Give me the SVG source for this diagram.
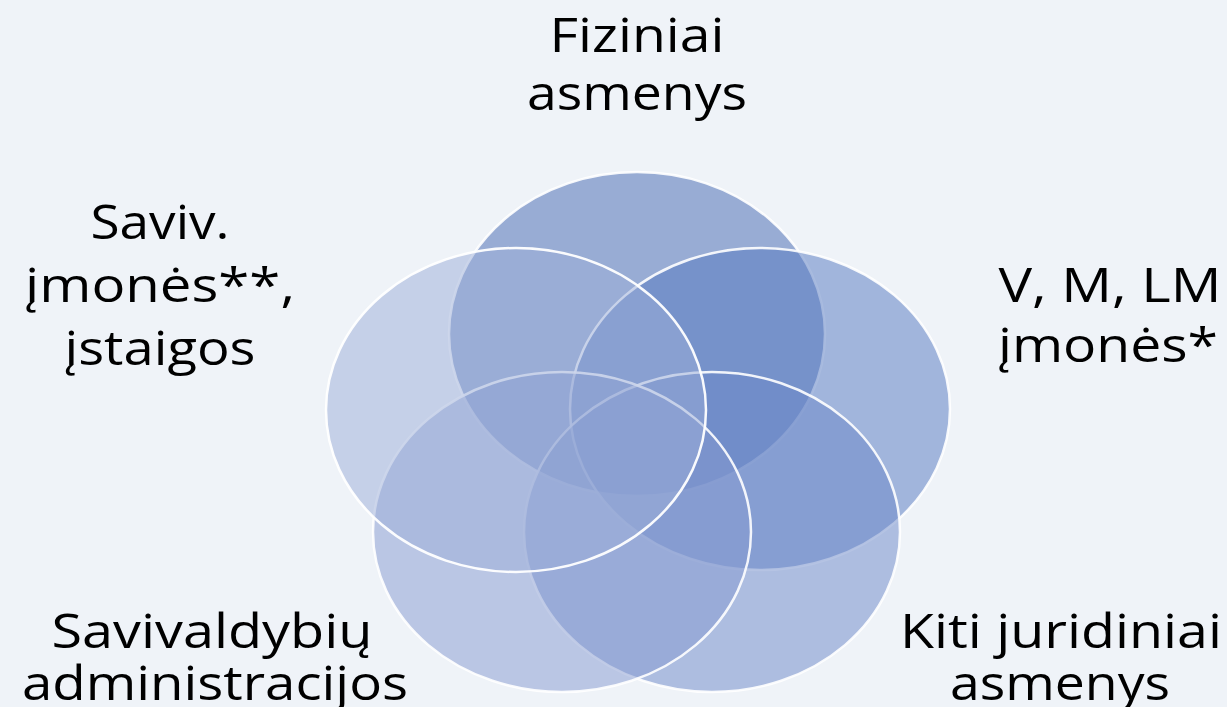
<svg xmlns="http://www.w3.org/2000/svg" width="1227" height="707" viewBox="0 0 1227 707">
<style>
.lbl{font-family:"Open Sans","Liberation Sans",sans-serif;font-size:48px;fill:#000;text-anchor:middle}
.c{stroke:#ffffff;stroke-width:2.5}
</style>
<rect width="1227" height="707" fill="#eff3f8"/>
<g id="connectors"/>
<g id="node-fiziniai">
<ellipse class="c" cx="637" cy="334" rx="188" ry="162" fill="rgb(65,101,176)" fill-opacity="0.5" stroke-opacity="0.9"/>
</g>
<g id="node-vmlm">
<ellipse class="c" cx="760" cy="409" rx="190" ry="161" fill="rgb(83,119,192)" fill-opacity="0.5" stroke-opacity="0.9"/>
</g>
<g id="node-kiti">
<ellipse class="c" cx="712" cy="532" rx="188" ry="160" fill="rgb(107,135,200)" fill-opacity="0.5" stroke-opacity="0.9"/>
</g>
<g id="node-savivaldybiu">
<ellipse class="c" cx="562" cy="532" rx="189" ry="160" fill="rgb(133,153,208)" fill-opacity="0.5" stroke-opacity="0.9"/>
</g>
<g id="node-saviv">
<ellipse class="c" cx="516" cy="410" rx="190" ry="162" fill="rgb(155,173,216)" fill-opacity="0.5" stroke-opacity="0.95"/>
</g>
<g id="labels">
<text class="lbl" x="637" y="52" textLength="175" lengthAdjust="spacingAndGlyphs">Fiziniai</text>
<text class="lbl" x="637" y="110" textLength="220" lengthAdjust="spacingAndGlyphs">asmenys</text>
<text class="lbl" x="160" y="239" textLength="139" lengthAdjust="spacingAndGlyphs">Saviv.</text>
<text class="lbl" x="160" y="302" textLength="270" lengthAdjust="spacingAndGlyphs">įmonės**,</text>
<text class="lbl" x="160" y="365" textLength="191" lengthAdjust="spacingAndGlyphs">įstaigos</text>
<text class="lbl" x="1110" y="302" textLength="223" lengthAdjust="spacingAndGlyphs">V, M, LM</text>
<text class="lbl" x="1108" y="362" textLength="220" lengthAdjust="spacingAndGlyphs">įmonės*</text>
<text class="lbl" x="212" y="648" textLength="321" lengthAdjust="spacingAndGlyphs">Savivaldybių</text>
<text class="lbl" x="215" y="700" textLength="386" lengthAdjust="spacingAndGlyphs">administracijos</text>
<text class="lbl" x="1061" y="648" textLength="322" lengthAdjust="spacingAndGlyphs">Kiti juridiniai</text>
<text class="lbl" x="1060" y="700" textLength="220" lengthAdjust="spacingAndGlyphs">asmenys</text>
</g>
</svg>
